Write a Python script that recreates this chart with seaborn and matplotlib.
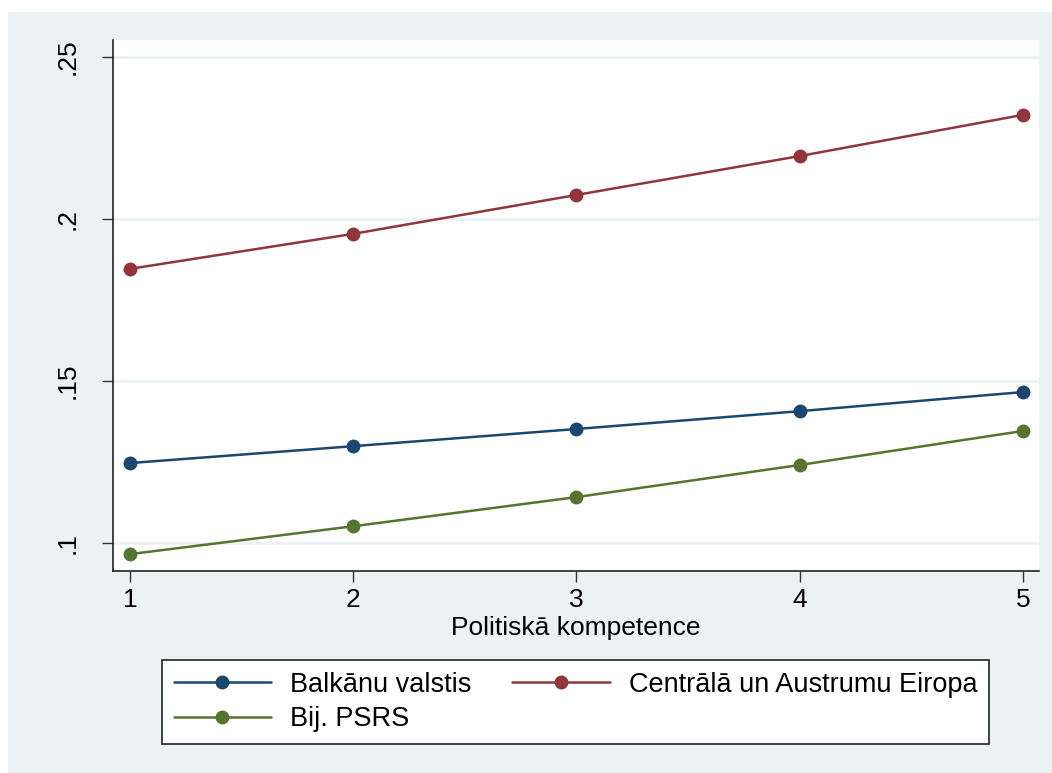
import matplotlib
matplotlib.use("Agg")
import matplotlib.pyplot as plt
import seaborn as sns
import pandas as pd
from matplotlib.patches import Rectangle
from matplotlib.lines import Line2D

# Predicted values by political competence level
competence = [1, 2, 3, 4, 5]
balkans = [0.1247, 0.1299, 0.1352, 0.1407, 0.1466]
central_east = [0.1846, 0.1954, 0.2074, 0.2194, 0.2321]
former_ussr = [0.0966, 0.1052, 0.1142, 0.1241, 0.1346]

series_names = ["Balkānu valstis", "Centrālā un Austrumu Eiropa", "Bij. PSRS"]
y_ticks = [0.10, 0.15, 0.20, 0.25]
y_tick_labels = [".1", ".15", ".2", ".25"]

df = pd.DataFrame({
    "x": competence * 3,
    "y": balkans + central_east + former_ussr,
    "group": [series_names[0]] * 5 + [series_names[1]] * 5 + [series_names[2]] * 5,
})

sns.set_theme(style="white")
plt.rcParams["font.family"] = ["Liberation Sans", "DejaVu Sans"]
plt.rcParams["text.color"] = "black"
plt.rcParams["axes.labelcolor"] = "black"
plt.rcParams["xtick.color"] = "black"
plt.rcParams["ytick.color"] = "black"

bg = "#EAF2F3"
palette = {series_names[0]: "#1A476F", series_names[1]: "#90353B", series_names[2]: "#55752F"}

fig = plt.figure(figsize=(10.52, 7.73), dpi=100, facecolor="white")
fig.patches.append(Rectangle((8 / 1052, 0), 1, 1 - 12 / 773, transform=fig.transFigure,
                             facecolor=bg, edgecolor="none", zorder=-10))

ax = fig.add_axes([113 / 1052, 1 - 571 / 773, (1039 - 113) / 1052, (571 - 40) / 773])
ax.set_facecolor("white")

for y in y_ticks:
    ax.axhline(y, color=bg, lw=2, zorder=0)

sns.lineplot(data=df, x="x", y="y", hue="group", palette=palette, marker="o",
             markersize=10, markeredgewidth=0, linewidth=1.8, ax=ax, legend=False)

ax.set_xlim(0.924, 5.072)
ax.set_ylim(0.0914, 0.2552)
ax.set_xticks(competence)
ax.set_xticklabels([str(c) for c in competence], fontsize=19)
ax.set_yticks(y_ticks)
ax.set_yticklabels(y_tick_labels, fontsize=19, rotation=90, va="center")
ax.tick_params(axis="x", direction="out", length=8, width=1, color="#333333",
               labelcolor="black", bottom=True, pad=4)
ax.tick_params(axis="y", direction="out", length=8, width=1, color="#333333",
               labelcolor="black", left=True, pad=16)
ax.set_xlabel("Politiskā kompetence", fontsize=19, labelpad=3, color="black")
ax.set_ylabel("")
for side in ["top", "right"]:
    ax.spines[side].set_visible(False)
for side in ["left", "bottom"]:
    ax.spines[side].set_color("#222222")
    ax.spines[side].set_linewidth(1.2)

handles = {n: Line2D([], [], color=palette[n], marker="o", markersize=10,
                     markeredgewidth=0, lw=1.8) for n in series_names}
# column-major fill: first column Balkans / former USSR, second column CEE
legend_order = [series_names[0], series_names[2], series_names[1]]
leg = fig.legend([handles[n] for n in legend_order], legend_order,
                 ncol=2, loc="center", bbox_to_anchor=(575.5 / 1052, 1 - 702 / 773),
                 fontsize=19.5, frameon=True, fancybox=False, edgecolor="#222222",
                 facecolor="white", framealpha=1,
                 handlelength=3.6, handletextpad=0.7, columnspacing=1.5,
                 borderpad=0.45, labelspacing=0.3)
leg.get_frame().set_linewidth(1.2)
for t in leg.get_texts():
    t.set_color("black")

fig.savefig("out.png", dpi=100, facecolor="white")
